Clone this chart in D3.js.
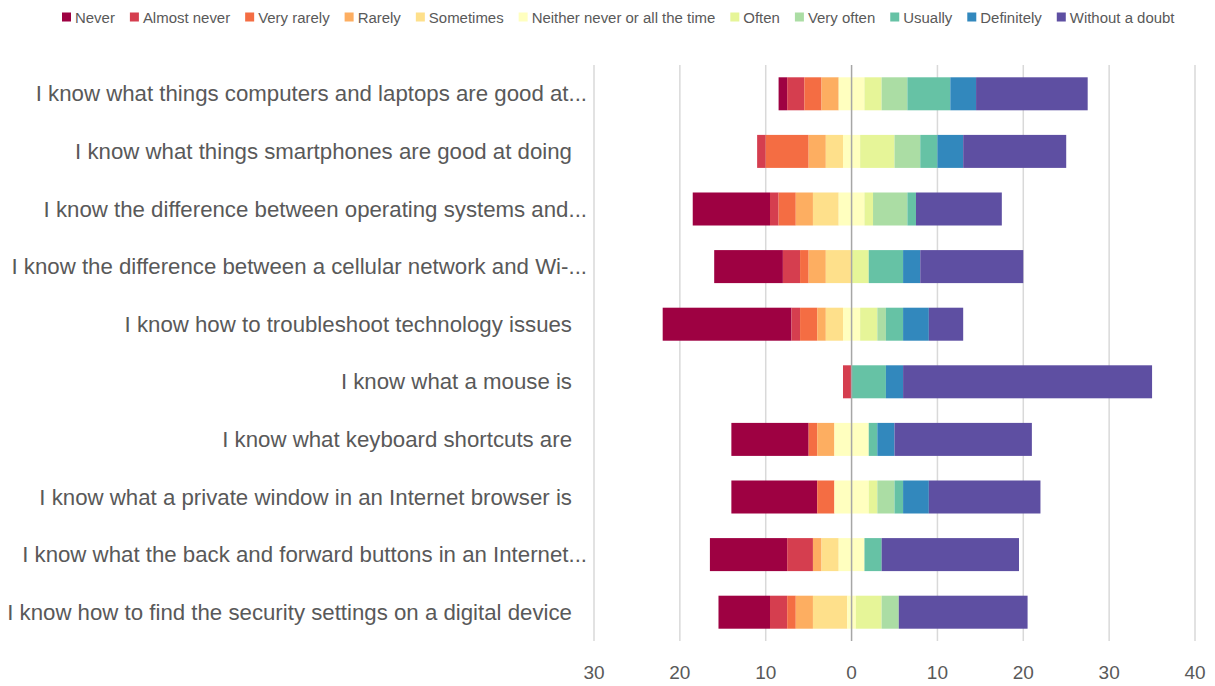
<!DOCTYPE html>
<html>
<head>
<meta charset="utf-8">
<script src="https://cdn.jsdelivr.net/npm/d3@7"></script>
<style>
  html, body { margin: 0; padding: 0; background: #fff; }
  svg { display: block; }
  text { font-family: "Liberation Sans", Arial, sans-serif; fill: #595959; }
</style>
</head>
<body>
<svg id="chart" width="1215" height="686"></svg>
<script>
// ---------- DATA ----------
const questions = [
  "I know what things computers and laptops are good at...",
  "I know what things smartphones are good at doing",
  "I know the difference between operating systems and...",
  "I know the difference between a cellular network and Wi-...",
  "I know how to troubleshoot technology issues",
  "I know what a mouse is",
  "I know what keyboard shortcuts are",
  "I know what a private window in an Internet browser is",
  "I know what the back and forward buttons in an Internet...",
  "I know how to find the security settings on a digital device"
];
const categories = ["Never", "Almost never", "Very rarely", "Rarely", "Sometimes",
  "Neither never or all the time", "Often", "Very often", "Usually", "Definitely", "Without a doubt"];
const colors = ["#9e0142", "#d53e4f", "#f46d43", "#fdae61", "#fee08b", "#ffffbf",
  "#e6f598", "#abdda4", "#66c2a5", "#3288bd", "#5e4fa2"];

const never        = [1, 0, 9, 8, 15, 0, 9, 10, 9, 6];
const almostNever  = [2, 1, 1, 2, 1, 1, 0, 0, 3, 2];
const veryRarely   = [2, 5, 2, 1, 2, 0, 1, 2, 0, 1];
const rarely       = [2, 2, 2, 2, 1, 0, 2, 0, 1, 2];
const sometimes    = [0, 2, 3, 3, 2, 0, 0, 0, 2, 4];
const neither      = [3, 2, 3, 0, 2, 0, 4, 4, 3, 1];
const often        = [2, 4, 1, 2, 2, 0, 0, 1, 0, 3];
const veryOften    = [3, 3, 4, 0, 1, 0, 0, 2, 0, 2];
const usually      = [5, 2, 1, 4, 2, 4, 1, 1, 2, 0];
const definitely   = [3, 3, 0, 2, 3, 2, 2, 3, 0, 0];
const withoutDoubt = [13, 12, 10, 12, 4, 29, 16, 13, 16, 15];

const tickValues = [-30, -20, -10, 0, 10, 20, 30, 40];
const tickLabels = ["30", "20", "10", "0", "10", "20", "30", "40"];

const series = [never, almostNever, veryRarely, rarely, sometimes, neither,
  often, veryOften, usually, definitely, withoutDoubt];

// ---------- LAYOUT ----------
const svg = d3.select("#chart");
const x = d3.scaleLinear().domain([-30, 40]).range([594, 1195]);
const y = d3.scaleBand().domain(questions).range([65, 641]).paddingInner(0.427).paddingOuter(0.2135);
const color = d3.scaleOrdinal().domain(categories).range(colors);

// gridlines (behind bars)
svg.append("g").selectAll("line")
  .data(tickValues.filter(d => d !== 0))
  .join("line")
  .attr("x1", d => x(d)).attr("x2", d => x(d))
  .attr("y1", 65).attr("y2", 641)
  .attr("stroke", "#d9d9d9").attr("stroke-width", 1.5);

// stacked diverging bars
const rows = questions.map((q, i) => {
  const vals = series.map(s => s[i]);
  const leftTotal = vals[0] + vals[1] + vals[2] + vals[3] + vals[4] + vals[5] / 2;
  let acc = -leftTotal;
  const segs = vals.map((v, k) => {
    const seg = { q, cat: categories[k], x0: acc, x1: acc + v, v };
    acc += v;
    return seg;
  });
  return segs.filter(s => s.v > 0);
});

svg.append("g").selectAll("g")
  .data(rows)
  .join("g")
  .selectAll("rect")
  .data(d => d)
  .join("rect")
  .attr("x", d => x(d.x0))
  .attr("width", d => x(d.x1) - x(d.x0))
  .attr("y", d => y(d.q))
  .attr("height", y.bandwidth())
  .attr("fill", d => color(d.cat));

// zero line (on top)
svg.append("line")
  .attr("x1", x(0)).attr("x2", x(0))
  .attr("y1", 65).attr("y2", 641)
  .attr("stroke", "#a6a6a6").attr("stroke-width", 1.5);

// x tick labels
svg.append("g").selectAll("text")
  .data(tickValues)
  .join("text")
  .attr("x", d => x(d))
  .attr("y", 672)
  .attr("text-anchor", "middle")
  .attr("dominant-baseline", "central")
  .style("font-size", "19px")
  .text((d, i) => tickLabels[i]);

// category labels
const labelG = svg.append("g");
const labels = labelG.selectAll("text")
  .data(questions)
  .join("text")
  .attr("x", d => d.endsWith("...") ? 587 : 572)
  .attr("y", d => y(d) + y.bandwidth() / 2)
  .attr("text-anchor", "end")
  .attr("dominant-baseline", "central")
  .style("font-size", "20px")
  .text(d => d);
// fit font so the longest label spans like the reference (~565px)
const longest = labels.filter(d => d.startsWith("I know how to find")).node();
const w = longest.getComputedTextLength();
const fs = 20 * 565 / w;
labels.style("font-size", fs + "px");

// legend
const legend = svg.append("g");
const items = legend.selectAll("g").data(categories).join("g");
items.append("rect").attr("width", 9).attr("height", 9).attr("y", -4.5)
  .attr("fill", d => color(d));
items.append("text").attr("x", 13).attr("dominant-baseline", "central")
  .style("font-size", "14px").text(d => d);
// measure and fit legend to span ~62..1175
function layoutLegend(size) {
  items.select("text").style("font-size", size + "px");
  let pos = 0;
  const gap = 15;
  const offsets = [];
  items.each(function() {
    const tw = d3.select(this).select("text").node().getComputedTextLength();
    offsets.push(pos);
    pos += 13 + tw + gap;
  });
  return { offsets, total: pos - gap };
}
let lay = layoutLegend(14);
const target = 1175 - 62;
const size2 = 14 * (target - 11 * 13 - 10 * 15) / (lay.total - 11 * 13 - 10 * 15);
lay = layoutLegend(size2);
items.attr("transform", (d, i) => `translate(${62 + lay.offsets[i]},17)`);
</script>
</body>
</html>
